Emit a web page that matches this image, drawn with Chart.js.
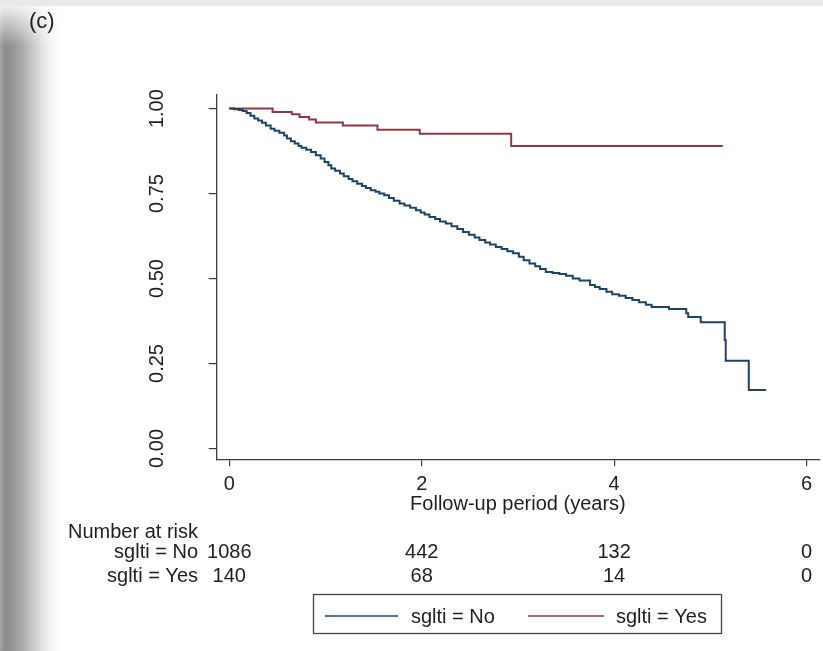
<!DOCTYPE html>
<html>
<head>
<meta charset="utf-8">
<script src="https://cdn.jsdelivr.net/npm/chart.js@4/dist/chart.umd.min.js"></script>
<style>
  html, body { margin: 0; padding: 0; background: #fff; }
  #wrap { position: relative; width: 823px; height: 651px; overflow: hidden; background: #fff; }
  #topband { position: absolute; left: 0; top: 0; width: 823px; height: 6px; background: #e9e9e9; }
  #sidebar { position: absolute; left: 0; top: 6px; width: 62px; height: 645px;
    background: linear-gradient(to right, #a4a4a4 0px, #8c8c8c 5px, #959595 12px, #a9a9a9 22px, #c6c6c6 32px, #e2e2e2 42px, #f6f6f6 52px, #ffffff 62px); }
  #sidefade { position: absolute; left: 0; top: 6px; width: 62px; height: 40px;
    background: linear-gradient(to bottom, rgba(255,255,255,0.85) 0px, rgba(255,255,255,0) 40px); }
  canvas { position: absolute; left: 0; top: 0; }
</style>
</head>
<body>
<div id="wrap">
  <div id="topband"></div>
  <div id="sidebar"></div>
  <div id="sidefade"></div>
  <canvas id="km" width="823" height="651"></canvas>
</div>
<script>
// Kaplan-Meier survival estimates by group (time in years, survival proportion)
const groupLabels = ['sglti = No', 'sglti = Yes'];

const noTime = [0.00, 0.05, 0.10, 0.14, 0.18, 0.22, 0.26, 0.30, 0.34, 0.38, 0.43, 0.47, 0.52, 0.57, 0.60,
  0.64, 0.68, 0.72, 0.75, 0.80, 0.85, 0.90, 0.95, 0.99, 1.03, 1.06, 1.10, 1.15, 1.19, 1.24, 1.28, 1.33,
  1.38, 1.42, 1.47, 1.52, 1.56, 1.61, 1.66, 1.71, 1.77, 1.82, 1.88, 1.94, 1.99, 2.03, 2.08, 2.14, 2.19,
  2.25, 2.31, 2.37, 2.43, 2.49, 2.55, 2.60, 2.66, 2.71, 2.77, 2.83, 2.89, 2.95, 3.01, 3.06, 3.12, 3.18,
  3.23, 3.29, 3.36, 3.43, 3.50, 3.57, 3.64, 3.75, 3.80, 3.85, 3.92, 3.98, 4.05, 4.12, 4.19, 4.26, 4.33,
  4.39, 4.57, 4.75, 4.77, 4.90, 5.15, 5.16, 5.40, 5.58];
const noSurv = [1.000, 0.998, 0.996, 0.993, 0.987, 0.979, 0.971, 0.965, 0.958, 0.950, 0.941, 0.935, 0.929, 0.921, 0.912,
  0.904, 0.897, 0.890, 0.885, 0.879, 0.872, 0.863, 0.853, 0.843, 0.833, 0.824, 0.817, 0.809, 0.801, 0.793, 0.786, 0.779,
  0.772, 0.766, 0.760, 0.755, 0.750, 0.745, 0.737, 0.729, 0.721, 0.715, 0.708, 0.701, 0.694, 0.688, 0.681, 0.675, 0.668,
  0.662, 0.654, 0.646, 0.637, 0.629, 0.621, 0.613, 0.606, 0.600, 0.593, 0.587, 0.580, 0.574, 0.564, 0.554, 0.544, 0.536,
  0.528, 0.519, 0.516, 0.513, 0.508, 0.500, 0.494, 0.481, 0.475, 0.469, 0.461, 0.454, 0.449, 0.443, 0.437, 0.430, 0.423,
  0.416, 0.410, 0.398, 0.387, 0.371, 0.319, 0.258, 0.172, 0.172];

const yesTime = [0.00, 0.45, 0.65, 0.73, 0.83, 0.90, 1.18, 1.54, 1.98, 2.93, 5.13];
const yesSurv = [1.000, 0.990, 0.983, 0.975, 0.968, 0.959, 0.950, 0.938, 0.926, 0.890, 0.890];

// Axis ticks
const xTickValues = [0, 2, 4, 6];
const yTickValues = [0, 0.25, 0.5, 0.75, 1];
const yTickLabels = ['0.00', '0.25', '0.50', '0.75', '1.00'];

// Number-at-risk table
const riskTimes = [0, 2, 4, 6];
const riskNo = [1086, 442, 132, 0];
const riskYes = [140, 68, 14, 0];

const lineColors = ['#1c4468', '#8f3a40'];
const FONT = "'Liberation Sans', Arial, Helvetica, sans-serif";
const INK = '#1e1e1e';
const AXIS = '#3c3c3c';

Chart.defaults.font.family = FONT;

const toPoints = (ts, ss) => ts.map((t, i) => ({ x: t, y: ss[i] }));

// Draws rotated y labels, axis title, risk table, legend and panel tag
const annotations = {
  id: 'annotations',
  afterDraw(chart) {
    const c = chart.ctx;
    const xs = chart.scales.x, ys = chart.scales.y;
    c.save();
    c.fillStyle = INK;

    // panel tag
    c.font = '22px ' + FONT;
    c.textAlign = 'left';
    c.textBaseline = 'alphabetic';
    c.fillText('(c)', 29, 28);

    // y tick labels, rotated
    c.font = '20px ' + FONT;
    yTickValues.forEach((v, i) => {
      const py = ys.getPixelForValue(v);
      c.save();
      c.translate(163, py);
      c.rotate(-Math.PI / 2);
      c.textAlign = 'center';
      c.textBaseline = 'alphabetic';
      c.fillText(yTickLabels[i], 0, 0);
      c.restore();
    });

    // x axis title
    c.textAlign = 'center';
    const midX = (xs.getPixelForValue(xTickValues[0]) + xs.getPixelForValue(xTickValues[xTickValues.length - 1])) / 2;
    c.fillText('Follow-up period (years)', midX, 510);

    // number at risk
    c.textAlign = 'left';
    c.fillText('Number at risk', 68, 538);
    c.textAlign = 'right';
    c.fillText(groupLabels[0], 198, 557.5);
    c.fillText(groupLabels[1], 198, 581.5);
    c.textAlign = 'center';
    riskTimes.forEach((t, i) => {
      const px = xs.getPixelForValue(t);
      c.fillText(String(riskNo[i]), px, 557.5);
      c.fillText(String(riskYes[i]), px, 581.5);
    });

    // legend
    c.strokeStyle = '#444';
    c.lineWidth = 1.3;
    c.strokeRect(313.5, 594.5, 408, 39);
    const items = [
      { x0: 325, x1: 398, tx: 411 },
      { x0: 528, x1: 604, tx: 616 }
    ];
    items.forEach((it, i) => {
      c.strokeStyle = chart.data.datasets[i].borderColor;
      c.lineWidth = 1.6;
      c.beginPath();
      c.moveTo(it.x0, 616);
      c.lineTo(it.x1, 616);
      c.stroke();
      c.textAlign = 'left';
      c.fillStyle = INK;
      c.fillText(chart.data.datasets[i].label, it.tx, 623);
    });
    c.restore();
  }
};

new Chart(document.getElementById('km'), {
  type: 'line',
  data: {
    datasets: [
      { label: groupLabels[0], data: toPoints(noTime, noSurv), borderColor: lineColors[0],
        borderWidth: 2, stepped: true, pointRadius: 0, fill: false },
      { label: groupLabels[1], data: toPoints(yesTime, yesSurv), borderColor: lineColors[1],
        borderWidth: 2, stepped: true, pointRadius: 0, fill: false }
    ]
  },
  options: {
    responsive: false,
    animation: false,
    events: [],
    layout: { padding: { top: 95, right: 3, left: 0, bottom: 0 } },
    plugins: { legend: { display: false }, tooltip: { enabled: false } },
    scales: {
      x: {
        type: 'linear',
        min: -0.131,
        max: 6.14,
        afterBuildTicks: s => { s.ticks = xTickValues.map(v => ({ value: v })); },
        afterFit: s => { s.height = 651 - 459.3; },
        ticks: { color: INK, font: { size: 20, family: FONT }, padding: 6, maxRotation: 0,
                 callback: v => String(v) },
        grid: { drawOnChartArea: false, drawTicks: true, tickLength: 7, color: AXIS, lineWidth: 1.2 },
        border: { display: true, color: AXIS, width: 1.3 }
      },
      y: {
        type: 'linear',
        min: -0.032,
        max: 1.04,
        afterBuildTicks: s => { s.ticks = yTickValues.map(v => ({ value: v })); },
        afterFit: s => { s.width = 216.7; },
        ticks: { display: false },
        grid: { drawOnChartArea: false, drawTicks: true, tickLength: 8, color: AXIS, lineWidth: 1.2 },
        border: { display: true, color: AXIS, width: 1.3 }
      }
    }
  },
  plugins: [annotations]
});
</script>
</body>
</html>
